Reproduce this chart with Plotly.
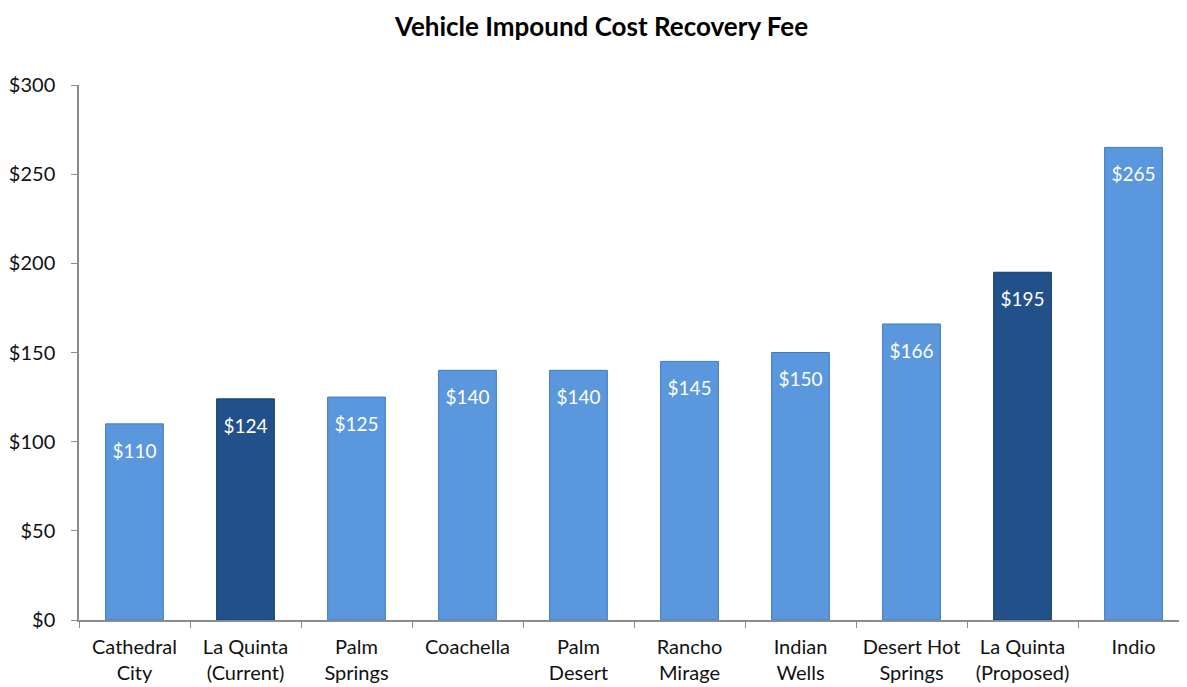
import plotly.graph_objects as go

categories = ["Cathedral<br>City", "La Quinta<br>(Current)", "Palm<br>Springs", "Coachella",
              "Palm<br>Desert", "Rancho<br>Mirage", "Indian<br>Wells", "Desert Hot<br>Springs",
              "La Quinta<br>(Proposed)", "Indio"]
fees = [110, 124, 125, 140, 140, 145, 150, 166, 195, 265]
highlight = [False, True, False, False, False, False, False, False, True, False]

light = "#5A97DC"
dark = "#22508A"
colors = [dark if h else light for h in highlight]
edges = ["#163A66" if h else "#3F7CC4" for h in highlight]
labels = ["<span style='font-size:6px'> </span><br>$" + str(v) for v in fees]

fig = go.Figure(go.Bar(
    x=categories, y=fees,
    marker=dict(color=colors, line=dict(color=edges, width=1)),
    width=0.52,
    text=labels,
    texttemplate="%{text}",
    textposition="inside",
    insidetextanchor="end",
    textangle=0,
    textfont=dict(color="white", size=19, family="Lato"),
    hoverinfo="skip",
))

fig.update_layout(
    width=1187, height=687,
    paper_bgcolor="white", plot_bgcolor="white",
    margin=dict(l=71, r=6, t=77, b=75),
    title=dict(text="<b>Vehicle Impound Cost Recovery Fee</b>", x=0.5, xanchor="center",
               y=0.972, yanchor="middle", font=dict(size=26, family="Lato", color="black")),
    font=dict(family="Lato", color="#111111", size=20),
    showlegend=False,
)
fig.update_xaxes(
    showline=True, linecolor="#8C8C8C", linewidth=1.5,
    tickson="boundaries", ticks="outside", ticklen=6, tickcolor="#8C8C8C",
    tickfont=dict(size=20, family="Lato"), showgrid=False, automargin=False,
    ticklabelstandoff=8,
)
fig.update_yaxes(
    range=[0, 300], dtick=50, tickprefix="$",
    showline=True, linecolor="#8C8C8C", linewidth=1.5,
    ticks="outside", ticklen=6, tickcolor="#8C8C8C",
    tickfont=dict(size=20, family="Lato"), showgrid=False, zeroline=False, automargin=False,
    ticklabelstandoff=12,
)

fig.write_html("out.html")
